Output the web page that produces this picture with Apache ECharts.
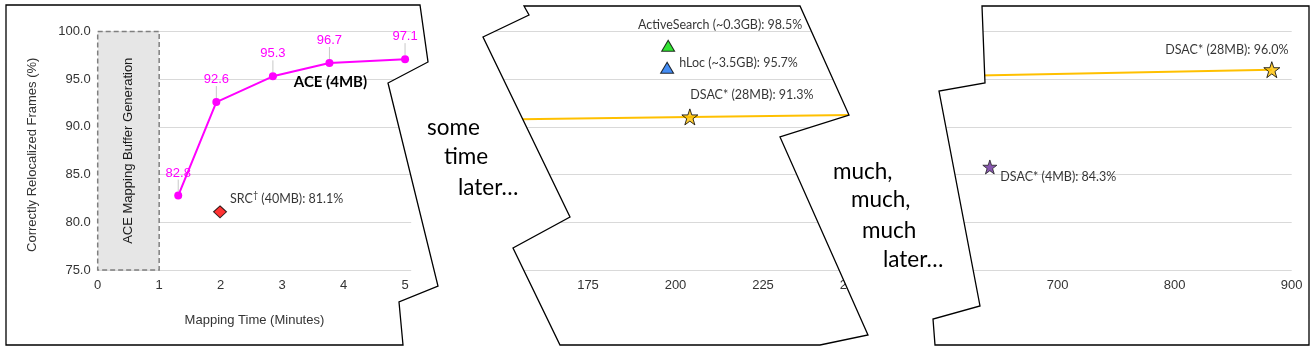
<!DOCTYPE html>
<html>
<head>
<meta charset="utf-8">
<script src="https://cdn.jsdelivr.net/npm/echarts@6/dist/echarts.min.js"></script>
<style>
html,body{margin:0;padding:0;background:#fff;}
#chart{width:1313px;height:351px;}
</style>
</head>
<body>
<div id="chart"></div>
<script>
// ---- data ----
const aceTime = [1.31, 1.93, 2.85, 3.77, 5.0];
const aceAcc = [82.8, 92.6, 95.3, 96.7, 97.1];
const aceName = 'ACE (4MB)';
const bufferRange = [0, 1];
const bufferLabel = 'ACE Mapping Buffer Generation';
const srcPoint = [1.99, 81.1];
const srcLabel = ['SRC', '\u2020', ' (40MB): 81.1%'];

const activeSearchPoint = [197.9, 98.5];
const activeSearchLabel = 'ActiveSearch (~0.3GB): 98.5%';
const hlocPoint = [197.6, 96.2];
const hlocLabel = 'hLoc (~3.5GB): 95.7%';
const dsac28MidPoint = [204.1, 91.05];
const dsac28MidLabel = 'DSAC* (28MB): 91.3%';
const dsacLineMid = [[145, 90.75], [204.1, 91.05], [250, 91.25]];

const dsac28LatePoint = [883, 96.0];
const dsac28LateLabel = 'DSAC* (28MB): 96.0%';
const dsac4Point = [642, 85.8];
const dsac4Label = 'DSAC* (4MB): 84.3%';
const dsacLineLate = [[600, 95.32], [883, 96.0]];

const yTicks = [75, 100, 5];
const xTicks1 = [0, 5.1, 1];
const xTicks2 = [145, 250, 5, 25];
const xTicks3 = [600, 900, 100];

const gapText1 = ['some', 'time', 'later\u2026'];
const gapText2 = ['much,', 'much,', 'much', 'later\u2026'];
const yName = 'Correctly Relocalized Frames (%)';
const xName = 'Mapping Time (Minutes)';

// ---- styles ----
const AX = 'Liberation Sans, Arial, sans-serif';
const CAL = 'Lato, sans-serif';
const gridColor = '#d9d9d9';
const starPath = 'path://M50,2 L61.5,36 L97,36 L68.5,57.5 L79.5,92 L50,71 L20.5,92 L31.5,57.5 L3,36 L38.5,36 Z';

const chart = echarts.init(document.getElementById('chart'), null, {renderer: 'canvas'});

function yAxis(grid, showLabels) {
  return {
    type: 'value', gridIndex: grid, min: yTicks[0], max: yTicks[1], interval: yTicks[2],
    axisLine: {show: false}, axisTick: {show: false},
    splitLine: {show: true, lineStyle: {color: gridColor, width: 1}},
    axisLabel: {show: showLabels, formatter: v => v.toFixed(1), color: '#333', fontSize: 13, fontFamily: AX, margin: 7},
    name: showLabels ? yName : '', nameLocation: 'middle', nameGap: 59,
    nameTextStyle: {color: '#333', fontSize: 13, fontFamily: AX, padding: [0, 0, 0, -8]}
  };
}

const annoStyle = {color: '#000', fontSize: 12.5, fontFamily: CAL};

const option = {
  animation: false,
  backgroundColor: '#fff',
  grid: [
    {left: 97.7, top: 31.5, width: 313.5, height: 238.5},
    {left: 483, top: 31.5, width: 367.5, height: 238.5},
    {left: 940.7, top: 31.5, width: 351, height: 238.5}
  ],
  xAxis: [
    {type: 'value', gridIndex: 0, min: xTicks1[0], max: xTicks1[1], interval: xTicks1[2],
     axisLine: {show: false}, axisTick: {show: false}, splitLine: {show: false},
     axisLabel: {formatter: v => Number.isInteger(v) ? String(v) : '', showMaxLabel: false, color: '#333', fontSize: 13, fontFamily: AX, margin: 9},
     name: xName, nameLocation: 'middle', nameGap: 44,
     nameTextStyle: {color: '#333', fontSize: 13, fontFamily: AX}},
    {type: 'value', gridIndex: 1, min: xTicks2[0], max: xTicks2[1], interval: xTicks2[2],
     axisLine: {show: false}, axisTick: {show: false}, splitLine: {show: false},
     axisLabel: {formatter: v => (v % xTicks2[3] === 0) ? String(v) : '', color: '#333', fontSize: 13, fontFamily: AX, margin: 9}},
    {type: 'value', gridIndex: 2, min: xTicks3[0], max: xTicks3[1], interval: xTicks3[2],
     axisLine: {show: false}, axisTick: {show: false}, splitLine: {show: false},
     axisLabel: {color: '#333', fontSize: 13, fontFamily: AX, margin: 9}}
  ],
  yAxis: [yAxis(0, true), yAxis(1, false), yAxis(2, false)],
  series: [
    {
      type: 'line', xAxisIndex: 0, yAxisIndex: 0, z: 5,
      data: aceTime.map((t, i) => [t, aceAcc[i]]),
      symbol: 'circle', symbolSize: 8,
      itemStyle: {color: '#FF00FF'}, lineStyle: {color: '#FF00FF', width: 2},
      label: {show: true, position: 'top', distance: 4, formatter: p => p.value[1].toFixed(1),
               color: '#FF00FF', fontSize: 13, fontFamily: AX},
      labelLayout: {dy: -8},
      labelLine: {show: true, lineStyle: {color: '#c8c8c8', width: 1}},
      markPoint: {
        symbol: 'circle', symbolSize: 1, itemStyle: {color: 'rgba(0,0,0,0)'},
        label: {show: true, position: 'inside', offset: [1, 19], formatter: aceName,
                color: '#000', fontSize: 15, fontWeight: 'bold', fontFamily: CAL},
        data: [{coord: [aceTime[3], aceAcc[3]]}]
      },
      markArea: {
        silent: true,
        itemStyle: {color: '#e6e6e6', borderColor: '#7f7f7f', borderWidth: 1.5, borderType: [5, 3]},
        label: {show: true, position: 'inside', rotate: 90, formatter: bufferLabel,
                color: '#1a1a1a', fontSize: 13, fontFamily: AX},
        data: [[{coord: [bufferRange[0], yTicks[1]]}, {coord: [bufferRange[1], yTicks[0]]}]]
      }
    },
    {
      type: 'scatter', xAxisIndex: 0, yAxisIndex: 0, z: 6,
      data: [srcPoint], symbol: 'diamond', symbolSize: [13, 12],
      itemStyle: {color: '#FF0000', borderColor: '#000', borderWidth: 1},
      label: {show: true, position: 'right', offset: [-2, -13],
              formatter: '{a|' + srcLabel[0] + '}{s|' + srcLabel[1] + '}{a|' + srcLabel[2] + '}',
              rich: {a: {color: '#000', fontSize: 12.5, fontFamily: CAL},
                     s: {color: '#000', fontSize: 9, fontFamily: CAL, padding: [0, 0, 8, 0]}}}
    },
    {
      type: 'line', xAxisIndex: 1, yAxisIndex: 1, z: 4, data: dsacLineMid,
      symbol: 'none', lineStyle: {color: '#FFC000', width: 2}, clip: true
    },
    {
      type: 'scatter', xAxisIndex: 1, yAxisIndex: 1, z: 6, data: [activeSearchPoint],
      symbol: 'triangle', symbolSize: [13, 11],
      itemStyle: {color: '#00DD00', borderColor: '#000', borderWidth: 1},
      label: Object.assign({show: true, position: 'top', offset: [52, -3], formatter: activeSearchLabel}, annoStyle)
    },
    {
      type: 'scatter', xAxisIndex: 1, yAxisIndex: 1, z: 6, data: [hlocPoint],
      symbol: 'triangle', symbolSize: [13, 11],
      itemStyle: {color: '#1670F0', borderColor: '#000', borderWidth: 1},
      label: Object.assign({show: true, position: 'right', offset: [0, -5], formatter: hlocLabel}, annoStyle)
    },
    {
      type: 'scatter', xAxisIndex: 1, yAxisIndex: 1, z: 6, data: [dsac28MidPoint],
      symbol: starPath, symbolSize: 16,
      itemStyle: {color: '#FFC000', borderColor: '#000', borderWidth: 1},
      label: Object.assign({show: true, position: 'top', offset: [62, -2], formatter: dsac28MidLabel}, annoStyle)
    },
    {
      type: 'line', xAxisIndex: 2, yAxisIndex: 2, z: 4, data: dsacLineLate,
      symbol: 'none', lineStyle: {color: '#FFC000', width: 2}, clip: true
    },
    {
      type: 'scatter', xAxisIndex: 2, yAxisIndex: 2, z: 6, data: [dsac28LatePoint],
      symbol: starPath, symbolSize: 16,
      itemStyle: {color: '#FFC000', borderColor: '#000', borderWidth: 1},
      label: Object.assign({show: true, position: 'top', offset: [-45, 0], formatter: dsac28LateLabel}, annoStyle)
    },
    {
      type: 'scatter', xAxisIndex: 2, yAxisIndex: 2, z: 6, data: [dsac4Point],
      symbol: starPath, symbolSize: 14,
      itemStyle: {color: '#6A2D9C', borderColor: '#222', borderWidth: 1},
      label: Object.assign({show: true, position: 'right', offset: [-2, 10], formatter: dsac4Label}, annoStyle)
    }
  ],
  graphic: []
};

// masks between the torn panels (white), outlines, and gap text
const maskA = [[420,0],[420,5],[428,62],[388,83],[438,286],[399,302],[403,345],[403,351],[560,351],[560,345],[513,248],[570,217],[483,37],[529,15],[524,6],[524,0]];
const maskB = [[800,0],[800,6],[849,115],[780,137],[868,335],[820,345],[820,351],[935,351],[935,345],[933,319],[980,306],[939,91],[985,83],[982,6],[982,0]];
const panel1 = [[6,5],[420,5],[428,62],[388,83],[438,286],[399,302],[403,345],[6,345]];
const panel2 = [[524,6],[800,6],[849,115],[780,137],[868,335],[820,345],[560,345],[513,248],[570,217],[483,37],[529,15]];
const panel3 = [[982,6],[1309,6],[1309,345],[935,345],[933,319],[980,306],[939,91],[985,83]];

[maskA, maskB].forEach(pts => option.graphic.push({type: 'polygon', z: 100, silent: true, shape: {points: pts}, style: {fill: '#fff', stroke: null}}));
[panel1, panel2, panel3].forEach(pts => option.graphic.push({type: 'polygon', z: 110, silent: true, shape: {points: pts}, style: {fill: null, stroke: '#000', lineWidth: 1.3}}));

const gap1Pos = [[427, 129], [444, 158], [458, 189]];
const gap2Pos = [[833, 173], [851, 201], [862, 232], [883, 261]];
gapText1.forEach((t, i) => option.graphic.push({type: 'text', z: 120, silent: true, left: gap1Pos[i][0], top: gap1Pos[i][1] - 13,
  style: {text: t, font: '22.5px Lato, sans-serif', fill: '#000'}}));
gapText2.forEach((t, i) => option.graphic.push({type: 'text', z: 120, silent: true, left: gap2Pos[i][0], top: gap2Pos[i][1] - 13,
  style: {text: t, font: '22.5px Lato, sans-serif', fill: '#000'}}));

chart.setOption(option);
</script>
</body>
</html>
